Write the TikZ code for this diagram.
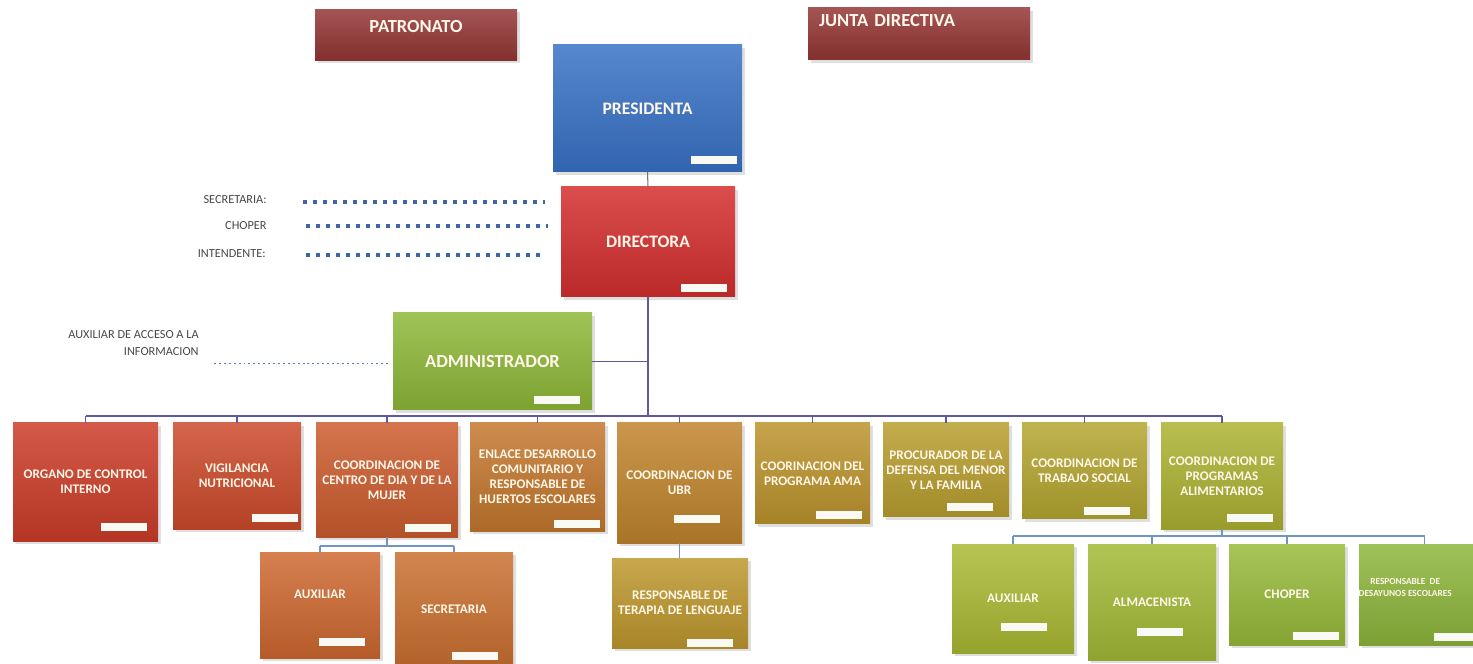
\documentclass[tikz,border=0pt]{standalone}
\usepackage{fontspec}
\setmainfont{Carlito}
\usetikzlibrary{shadows}

% colours of the chart
\definecolor{patred}{RGB}{148,54,52}
\definecolor{presblue}{RGB}{56,114,198}
\definecolor{dirred}{RGB}{212,46,46}
\definecolor{admgreen}{RGB}{142,184,56}
\definecolor{cOrg}{RGB}{204,60,40}
\definecolor{cVig}{RGB}{204,74,42}
\definecolor{cCen}{RGB}{204,92,46}
\definecolor{cEnl}{RGB}{196,120,46}
\definecolor{cUbr}{RGB}{192,132,44}
\definecolor{cAma}{RGB}{188,148,44}
\definecolor{cPro}{RGB}{184,158,46}
\definecolor{cTra}{RGB}{180,166,48}
\definecolor{cAli}{RGB}{172,178,50}
\definecolor{cAux}{RGB}{206,104,48}
\definecolor{cSec}{RGB}{202,112,48}
\definecolor{cTer}{RGB}{190,152,46}
\definecolor{gAux}{RGB}{170,186,52}
\definecolor{gAlm}{RGB}{162,186,54}
\definecolor{gCho}{RGB}{152,186,58}
\definecolor{gRes}{RGB}{142,182,60}
\definecolor{boxtext}{RGB}{255,247,234}
\definecolor{lbltext}{RGB}{72,72,72}
\definecolor{lineblue}{RGB}{96,88,160}
\definecolor{sublineblue}{RGB}{110,150,192}
\definecolor{dotblue}{RGB}{62,100,168}
\definecolor{tagwhite}{RGB}{250,250,244}

\newcommand\tagbar[3]{\fill[tagwhite] ([shift={(-#2,-#3)}]#1.south east) rectangle ++(-46,-8);}

\begin{document}
\begin{tikzpicture}[x=0.2mm,y=-0.2mm,
	box/.style={rectangle, inner sep=1pt, outer sep=0pt, align=center, text=boxtext,
		font=\bfseries\fontsize{7.5}{8.5}\selectfont,
		drop shadow={opacity=0.25, shadow xshift=0.5mm, shadow yshift=-0.6mm}},
	boxfill/.style={top color=#1!85!white, bottom color=#1!88!black},
	dims/.style 2 args={minimum width=#1*0.2mm, minimum height=#2*0.2mm},
	bigtext/.style={font=\bfseries\fontsize{10}{12}\selectfont},
	lbl/.style={inner sep=0pt, text=lbltext, font=\fontsize{7}{9.6}\selectfont},
	conn/.style={draw=lineblue, line width=0.8pt},
	subconn/.style={draw=sublineblue, line width=0.8pt},
	dirdots/.style={draw=dotblue, line width=2.3pt, dash pattern=on 2.3pt off 3.4pt},
	admdots/.style={draw=dotblue!85!white, line width=1.1pt, dash pattern=on 1.1pt off 1.7pt}]

	\fill[white] (0,0) rectangle (1473,664);
	\useasboundingbox (0,0) rectangle (1473,664);

	% Draw top of the chart
	\node[box, boxfill=patred, dims={202}{51}, font=\bfseries\fontsize{10.5}{12}\selectfont, text depth=10pt] (pat) at (416,35) {PATRONATO};
	\node[box, boxfill=patred, dims={222}{52}, font=\bfseries\fontsize{10.5}{12}\selectfont, text width=200*0.2mm, align=left, text depth=15pt] (junta) at (919,34) {JUNTA DIRECTIVA};
	\node[box, boxfill=presblue, dims={189}{127}, bigtext] (pres) at (647.5,108.5) {PRESIDENTA};
	\node[box, boxfill=dirred, dims={174}{110}, bigtext] (dir) at (648,242) {DIRECTORA};
	\node[box, boxfill=admgreen, dims={199}{97}, font=\bfseries\fontsize{10.5}{12}\selectfont] (admin) at (492.5,361.5) {ADMINISTRADOR};

	% Draw staff next to directora
	\node[lbl, anchor=east] (lsec) at (267,200) {SECRETARIA:};
	\node[lbl, anchor=east] (lcho) at (267,226) {CHOPER};
	\node[lbl, anchor=east] (lint) at (266,254) {INTENDENTE:};
	\node[lbl, anchor=north east, align=right] (laux) at (199,330) {AUXILIAR DE ACCESO A LA\\INFORMACION};

	% Draw first level
	\node[box, boxfill=cOrg, dims={145}{118}] (o1) at (85.5,482) {ORGANO DE CONTROL\\INTERNO};
	\node[box, boxfill=cVig, dims={128}{106}] (o2) at (237,476) {VIGILANCIA\\NUTRICIONAL};
	\node[box, boxfill=cCen, dims={142}{114}] (o3) at (387,480) {COORDINACION DE\\CENTRO DE DIA Y DE LA\\MUJER};
	\node[box, boxfill=cEnl, dims={135}{108}] (o4) at (537.5,477) {ENLACE DESARROLLO\\COMUNITARIO Y\\RESPONSABLE DE\\HUERTOS ESCOLARES};
	\node[box, boxfill=cUbr, dims={125}{120}] (o5) at (679.5,483) {COORDINACION DE\\UBR};
	\node[box, boxfill=cAma, dims={115}{101}] (o6) at (812.5,473.5) {COORINACION DEL\\PROGRAMA AMA};
	\node[box, boxfill=cPro, dims={126}{94}] (o7) at (946,470) {PROCURADOR DE LA\\DEFENSA DEL MENOR\\Y LA FAMILIA};
	\node[box, boxfill=cTra, dims={125}{96}] (o8) at (1084.5,471) {COORDINACION DE\\TRABAJO SOCIAL};
	\node[box, boxfill=cAli, dims={122}{106}] (o9) at (1222,476) {COORDINACION DE\\PROGRAMAS\\ALIMENTARIOS};

	% Draw second level
	\node[box, boxfill=cAux, dims={120}{106}, text depth=12pt] (c1) at (320,605) {AUXILIAR};
	\node[box, boxfill=cSec, dims={118}{114}] (c2) at (454,609) {SECRETARIA};
	\node[box, boxfill=cTer, dims={136}{90}] (t1) at (680,603) {RESPONSABLE DE\\TERAPIA DE LENGUAJE};
	\node[box, boxfill=gAux, dims={122}{109}] (g1) at (1013,598.5) {AUXILIAR};
	\node[box, boxfill=gAlm, dims={128}{116}] (g2) at (1152,602) {ALMACENISTA};
	\node[box, boxfill=gCho, dims={116}{101}] (g3) at (1287,594.5) {CHOPER};
	\node[box, boxfill=gRes, dims={131}{101}, font=\bfseries\fontsize{5.3}{6.5}\selectfont, text depth=8pt] (g4) at (1424.5,594.5) {\hspace*{-22pt}RESPONSABLE~~DE\\\hspace*{-22pt}DESAYUNOS ESCOLARES};

	% white tags
	\tagbar{pres}{5}{8}
	\tagbar{dir}{8}{5}
	\tagbar{admin}{12}{6}
	\tagbar{o1}{11}{10}
	\tagbar{o2}{3}{7}
	\tagbar{o3}{7}{5}
	\tagbar{o4}{5}{3}
	\tagbar{o5}{22}{20}
	\tagbar{o6}{8}{5}
	\tagbar{o7}{16}{6}
	\tagbar{o8}{17}{4}
	\tagbar{o9}{10}{7}
	\tagbar{c1}{15}{12}
	\tagbar{c2}{15}{6}
	\tagbar{t1}{15}{1}
	\tagbar{g1}{27}{22}
	\tagbar{g2}{33}{24}
	\tagbar{g3}{6}{5}
	\tagbar{g4}{10}{4}

	% Draw the lines
	\coordinate (bus) at (648,416);
	\draw[draw=black!55, line width=0.6pt] (pres.south) -- (dir.north);
	\draw[conn] (dir.south) -- (bus);
	\draw[conn] (admin.east) -- (admin.east -| dir.south);
	\draw[conn] (o1.north |- bus) -- (o9.north |- bus);
	\foreach \n in {o1,o2,o3,o4,o5,o6,o7,o8,o9}
		\draw[conn] (\n.north |- bus) -- (\n.north);

	\coordinate (cbus) at (387,546);
	\draw[subconn] (o3.south) -- (o3.south |- cbus);
	\draw[subconn] (c1.north |- cbus) -- (c2.north |- cbus);
	\foreach \n in {c1,c2}
		\draw[subconn] (\n.north |- cbus) -- (\n.north);
	\draw[subconn] (o5.south) -- (o5.south |- t1.north);

	\coordinate (gbus) at (1222,536);
	\draw[subconn] (o9.south) -- (o9.south |- gbus);
	\draw[subconn] (g1.north |- gbus) -- (g4.north |- gbus);
	\foreach \n in {g1,g2,g3,g4}
		\draw[subconn] (\n.north |- gbus) -- (\n.north);

	% Draw dotted lines
	\draw[dirdots] ([shift={(36,2)}]lsec.east) -- ([shift={(-16,2)}]dir.west |- lsec.east);
	\draw[dirdots] ([shift={(39,0)}]lcho.east) -- ([shift={(-13,0)}]dir.west |- lcho.east);
	\draw[dirdots] ([shift={(40,1)}]lint.east) -- ([shift={(-16,1)}]dir.west |- lint.east);
	\draw[admdots] ([shift={(15,2)}]laux.east |- admin.west) -- ([shift={(-3,2)}]admin.west);
\end{tikzpicture}
\end{document}
